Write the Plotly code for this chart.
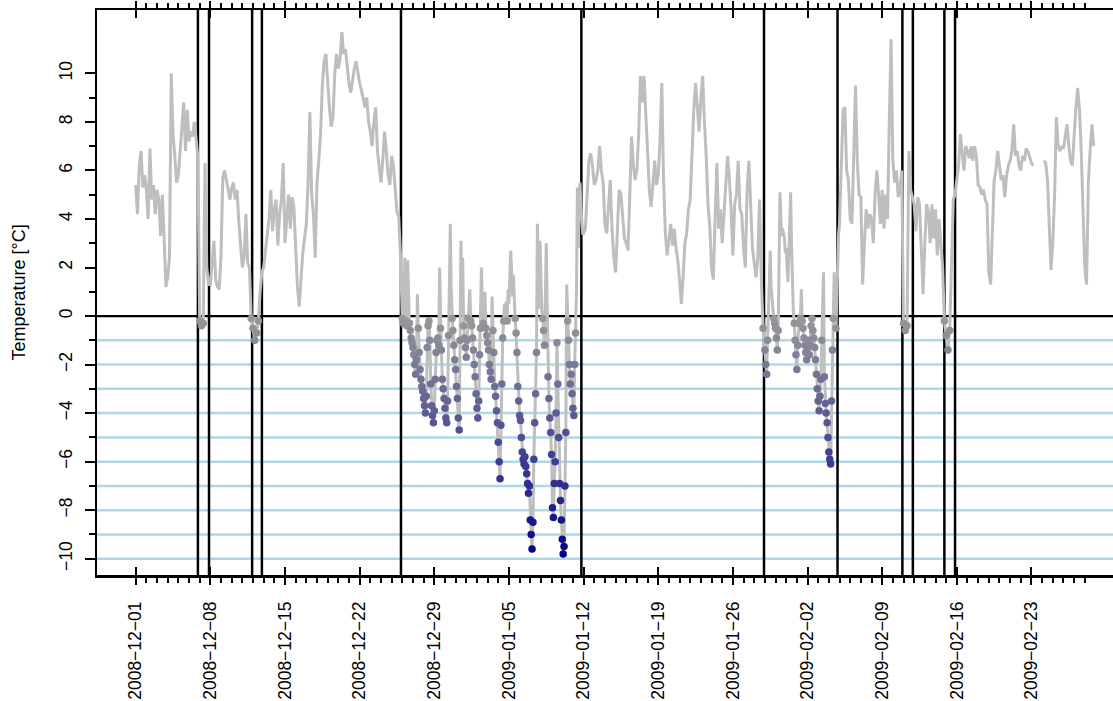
import plotly.graph_objects as go
import pandas as pd

# ---------------- data ----------------
# warm stretch 2008-12-01 .. 12-25, 4-hourly (00,04,08,12,16,20 h)
warm_dec_start = "2008-12-01 00:00"
warm_dec = [
    5.4, 4.2, 6.2, 6.8, 5.3, 5.8,        # 12-01
    5.2, 4.0, 6.9, 4.8, 5.4, 4.2,
    5.2, 4.8, 3.3, 5.0, 3.2, 1.2,
    1.6, 2.4, 10.0, 7.5, 6.6, 5.5,
    5.8, 6.8, 8.2, 8.8, 6.8, 8.5,
    7.2, 7.6, 7.4, 8.0, 7.3, 6.5,
    -0.2, -0.4, -0.3, 6.3, 2.0, 1.3,     # 12-07
    1.3, 2.2, 3.1, 1.5, 1.2, 1.1,        # 12-08
    2.5, 5.7, 6.0, 5.6, 5.2, 4.8,
    5.3, 5.5, 4.8, 5.2, 3.9, 2.8,
    2.0, 2.4, 4.2, 2.2, 2.0, -0.1,
    -0.5, -1.0, -0.7, -0.2, 1.0, 1.8,    # 12-12
    2.0, 2.6, 3.4, 4.0, 5.2, 3.5,
    4.4, 4.8, 2.9, 4.2, 4.8, 6.3,
    3.0, 4.2, 5.0, 3.6, 4.9, 4.5,        # 12-15
    3.1, 1.2, 0.4, 1.6, 2.6, 3.2,
    3.8, 5.5, 8.4, 5.0, 4.2, 2.4,
    5.5, 6.4, 7.5, 9.5, 10.5, 10.8,
    9.5, 8.6, 7.8, 8.2, 10.0, 10.8,
    10.2, 10.6, 11.7, 10.8, 11.0, 10.2,
    9.6, 9.2, 9.8, 10.2, 10.5, 10.0,
    9.6, 9.3, 9.0, 8.6, 9.0, 8.0,        # 12-22
    7.6, 7.0, 8.0, 8.6, 6.8, 6.2,
    5.5, 6.4, 7.6, 6.8, 5.8, 5.4,
    6.6, 6.2, 5.0, 4.3, 4.1, 2.5,        # 12-25
]

# frost spell 2008-12-26 .. 2009-01-11, 2-hourly
frost1_start = "2008-12-26 00:00"
frost1 = [
    -0.1, -0.3, 1.0, 2.4, -0.2, -0.4, 2.3, 0.2, -0.3, -0.6, -0.9, -1.1,      # 12-26
    -1.3, -1.6, -2.0, -2.4, -1.8, 0.9, -0.5, -1.5, -2.2, -2.6, -2.9, -3.1,   # 12-27
    -3.4, -3.7, -4.0, -3.3, -1.3, -0.4, -0.2, -1.0, -2.8, -3.7, -4.1, -4.4,  # 12-28
    -3.9, -2.6, -1.5, -1.0, -0.9, -1.2, 2.0, -0.5, -1.4, -2.6, -3.0, -3.4,   # 12-29
    -3.8, -4.2, -4.4, -3.5, -0.8, 1.0, 3.8, 1.1, -0.1, -0.6, -1.2, -1.8,     # 12-30
    -2.2, -2.9, -3.4, -4.2, -4.7, -1.0, 3.1, 0.5, 2.4, -0.4, -0.9, -1.3,     # 12-31
    -1.7, -1.0, -0.1, 0.6, 1.1, -0.2, -0.4, -0.9, -1.4, -2.0, -2.5, -3.2,    # 01-01
    -3.8, -4.2, -3.5, -1.6, -0.5, 2.0, 0.6, -0.3, 0.2, 1.0, -0.5, -0.8,      # 01-02
    -1.1, -1.4, -2.0, -2.3, -2.6, 0.8, -0.6, -1.5, -2.9, -3.3, -3.9, -4.4,   # 01-03
    -5.2, -6.0, -6.7, -4.5, -2.8, -0.9, -0.2, 0.5, 0.3, 0.6, -0.2, 1.1,      # 01-04
    0.5, 1.5, 2.7, 1.8, 0.8, 1.7, 0.2, -0.1, -0.7, -1.5, -2.9, -3.5,         # 01-05
    -4.1, -4.3, -5.0, -5.6, -5.9, -6.1, -5.8, -6.2, -6.5, -6.9, -7.3, -7.0,  # 01-06
    -8.4, -9.0, -9.6, -8.5, -5.9, -4.4, -3.2, -1.5, 3.8, 1.0, 0.3, 3.1,      # 01-07
    1.5, 0.2, -0.1, -0.6, -1.2, 0.8, 3.0, 0.5, -2.5, -3.4, -4.2, -4.8,       # 01-08
    -5.7, -7.9, -8.3, -6.9, -6.0, -4.0, -1.1, -2.8, -5.0, -6.9, -7.6, -8.4,  # 01-09
    -9.2, -9.8, -9.5, -7.0, -4.8, 1.3, -0.2, -1.0, -2.0, -2.8, -2.4, -3.2,   # 01-10
    -3.8, -4.1, -2.0, -0.7, 1.0, 5.3, 2.8, 5.0, 5.5, 4.5, 3.6, 3.4,          # 01-11
]

# mild stretch 2009-01-12 .. 01-28, 4-hourly
warm_jan_start = "2009-01-12 00:00"
warm_jan = [
    3.4, 3.6, 5.0, 6.4, 6.7, 6.2,        # 01-12
    5.4, 5.6, 6.0, 7.0, 6.0, 5.5,
    3.8, 3.4, 4.5, 5.6, 3.6, 2.4,
    1.8, 3.5, 5.2, 5.0, 4.0, 3.2,
    3.0, 2.7, 5.0, 7.4, 6.2, 5.6,
    6.0, 7.5, 9.9, 8.8, 9.9, 8.5,
    7.0, 5.2, 4.5, 5.5, 6.4, 5.4,
    5.8, 7.2, 9.6, 5.6, 3.4, 2.5,        # 01-19
    3.2, 3.8, 2.9, 3.6, 2.8, 2.3,
    1.5, 0.5, 1.6, 3.0, 3.4, 4.4,
    4.8, 7.0, 8.5, 9.6, 8.5, 7.6,
    9.0, 9.9, 8.0, 6.6, 4.6, 3.7,
    2.0, 1.5, 4.0, 6.3, 3.6, 4.4,
    3.0, 4.2, 5.4, 6.6, 5.7, 4.4,
    2.5, 4.6, 5.0, 6.4, 4.4, 4.2,        # 01-26
    2.8, 2.0, 5.2, 6.4, 4.6, 2.8,
    2.2, 1.6, 2.4, 4.8, 1.5, -0.5,       # 01-28
]

# frost spell 2009-01-29 .. 02-04, 2-hourly
frost2_start = "2009-01-29 00:00"
frost2 = [
    -1.4, -2.0, -2.4, -1.0, 0.5, 1.5, 2.7, 1.2, 0.7, 0.2, -0.1, -0.3,       # 01-29
    -0.5, -0.9, -1.4, -0.6, 2.0, 5.1, 4.0, 3.3, 3.6, 3.3, 3.2, 2.6,         # 01-30
    2.8, 2.0, 1.4, 2.6, 3.5, 5.1, 3.0, 1.0, 0.2, -0.3, -1.0, -1.6,          # 01-31
    -2.2, -1.2, -0.3, 0.1, -0.1, 1.1, -0.2, -0.5, -0.9, -1.2, -1.5, -1.8,   # 02-01
    -1.3, -1.0, -1.6, -1.2, -0.4, -0.1, -0.6, -0.9, -1.3, -1.8, -2.4, -3.0, # 02-02
    -3.5, -3.9, -3.3, -2.6, -1.0, 0.8, 1.8, -2.5, -3.6, -4.0, -4.4, -5.0,   # 02-03
    -5.6, -5.9, -6.1, -3.5, -1.4, -0.1, 1.8, 0.5, -0.5, 0.8, 2.5, 3.4,      # 02-04
]

# stretch 2009-02-05 .. 02-28, 4-hourly (logger gap on 02-23/24)
warm_feb_start = "2009-02-05 00:00"
warm_feb = [
    3.8, 6.0, 8.5, 8.6, 6.0, 5.6,        # 02-05
    4.0, 3.8, 7.0, 9.5, 6.4, 5.0,
    4.9, 1.3, 3.0, 4.4, 3.6, 4.2,
    4.0, 3.0, 5.0, 6.0, 5.0, 3.8,
    5.2, 3.6, 5.0, 4.0, 8.0, 11.4,       # 02-09
    6.4, 5.5, 6.0, 4.9, 5.2, 6.0,
    -0.3, -0.6, -0.4, 6.8, 5.2, 4.9,
    4.6, 3.5, 4.9, 4.6, 3.0, 0.9,
    3.0, 4.6, 4.3, 3.0, 4.6, 3.2,
    4.4, 2.5, 4.0, 3.0, 2.0, -0.2,
    -0.8, -1.4, -0.6, 2.5, 4.8, 5.0,     # 02-15
    5.6, 6.2, 7.5, 6.8, 6.0, 7.0,        # 02-16
    6.8, 6.5, 7.0, 6.4, 7.0, 6.6,
    5.4, 5.3, 5.0, 5.2, 4.8, 4.6,
    1.8, 1.3, 3.5, 5.6, 6.0, 6.8,
    6.2, 5.6, 5.8, 4.9, 5.8, 6.2,
    6.4, 6.8, 7.9, 6.6, 6.8, 6.2,
    6.0, 6.6, 6.4, 6.9, 6.8, 6.5,
    6.3, 6.2, None, None, None, None,    # 02-23
    None, 6.4, 6.3, 5.6, 3.5, 1.9,
    3.0, 5.0, 8.2, 7.0, 6.8, 7.0,
    6.9, 7.4, 7.9, 7.0, 6.4, 6.2,
    7.6, 8.6, 9.4, 8.5, 6.8, 4.4,
    2.0, 1.3, 5.5, 6.8, 7.9, 7.0,        # 02-28
]

# frost period boundaries (vertical lines)
frost_bounds = [
    "2008-12-06 20:00", "2008-12-07 21:00",
    "2008-12-11 22:00", "2008-12-12 20:00",
    "2008-12-25 21:00", "2009-01-11 19:00",
    "2009-01-28 22:00", "2009-02-04 19:30",
    "2009-02-10 21:30", "2009-02-11 21:00",
    "2009-02-14 20:00", "2009-02-15 20:00",
]
frost_levels = [-1, -2, -3, -4, -5, -6, -7, -8, -9, -10]

week_ticks = ["2008-12-01", "2008-12-08", "2008-12-15", "2008-12-22", "2008-12-29",
              "2009-01-05", "2009-01-12", "2009-01-19", "2009-01-26", "2009-02-02",
              "2009-02-09", "2009-02-16", "2009-02-23"]
week_labels = [d.replace("-", "\u2212") for d in week_ticks]
y_major = [-10, -8, -6, -4, -2, 0, 2, 4, 6, 8, 10]
y_minor = [-9, -7, -5, -3, -1, 1, 3, 5, 7, 9]

X_RANGE = ["2008-11-27 08:54", "2009-03-02 15:29"]
Y_RANGE = [-10.67, 12.61]

# ---------------- build ----------------
segments = [
    (warm_dec_start, "4h", warm_dec),
    (frost1_start, "2h", frost1),
    (warm_jan_start, "4h", warm_jan),
    (frost2_start, "2h", frost2),
    (warm_feb_start, "4h", warm_feb),
]
times, temps = [], []
for start, step, vals in segments:
    times += list(pd.date_range(start, periods=len(vals), freq=step))
    temps += vals

day_ticks = list(pd.date_range("2008-12-01", "2009-02-28", freq="D"))

frost_t = [t for t, v in zip(times, temps) if v is not None and v < 0]
frost_v = [v for v in temps if v is not None and v < 0]

fig = go.Figure()
fig.add_trace(go.Scatter(x=times, y=temps, mode="lines",
                         line=dict(color="#BEBEBE", width=3),
                         hoverinfo="skip", showlegend=False))
fig.add_trace(go.Scatter(x=frost_t, y=frost_v, mode="markers",
                         marker=dict(size=7.5, color=frost_v, cmin=-10, cmax=0,
                                     colorscale=[[0, "#00008B"], [1, "#999999"]],
                                     line=dict(width=0)),
                         showlegend=False))
# carriers for the extra tick axes
fig.add_trace(go.Scatter(x=[None], y=[None], xaxis="x2", mode="lines",
                         hoverinfo="skip", showlegend=False))
fig.add_trace(go.Scatter(x=[None], y=[None], xaxis="x3", mode="lines",
                         hoverinfo="skip", showlegend=False))

for lv in frost_levels:
    fig.add_shape(type="line", xref="paper", x0=0, x1=1, yref="y", y0=lv, y1=lv,
                  line=dict(color="#ADD8E6", width=2.5), layer="below")
fig.add_shape(type="line", xref="paper", x0=0, x1=1, yref="y", y0=0, y1=0,
              line=dict(color="black", width=2.2), layer="below")
for b in frost_bounds:
    fig.add_shape(type="line", xref="x", x0=b, x1=b, yref="paper", y0=0, y1=1,
                  line=dict(color="black", width=2.5), layer="below")

fig.add_annotation(text="Temperature [\u00b0C]", xref="paper", yref="paper",
                   x=-79 / 1016, y=0.5, xanchor="center", yanchor="middle",
                   textangle=-90, showarrow=False,
                   font=dict(size=18, color="black"))

tick_common = dict(showgrid=False, zeroline=False, tickcolor="black", fixedrange=True)

fig.update_layout(
    width=1113, height=701,
    margin=dict(l=97, r=0, t=10, b=126, pad=0),
    paper_bgcolor="white", plot_bgcolor="white",
    font=dict(family="Liberation Sans, Arial, sans-serif", color="black", size=17.5),
    xaxis=dict(
        type="date", range=X_RANGE,
        showline=True, linecolor="black", linewidth=2.5, mirror="allticks",
        ticks="outside", ticklen=7, tickwidth=2,
        tickmode="array", tickvals=week_ticks, ticktext=week_labels,
        tickangle=-90, tickfont=dict(size=17.5), ticklabelstandoff=10,
        minor=dict(tickmode="array", tickvals=day_ticks, ticks="outside",
                   ticklen=5, tickwidth=2, tickcolor="black", showgrid=False),
        **tick_common,
    ),
    xaxis2=dict(
        type="date", range=X_RANGE, overlaying="x", anchor="y", side="bottom",
        showline=False, mirror="ticks", ticks="inside", ticklen=8, tickwidth=2,
        tickmode="array", tickvals=week_ticks, showticklabels=False,
        **tick_common,
    ),
    xaxis3=dict(
        type="date", range=X_RANGE, overlaying="x", anchor="y", side="top",
        showline=False, ticks="outside", ticklen=5, tickwidth=2,
        tickmode="array", tickvals=day_ticks, showticklabels=False,
        **tick_common,
    ),
    yaxis=dict(
        range=Y_RANGE,
        showline=True, linecolor="black", linewidth=2.5, mirror=False,
        ticks="outside", ticklen=10, tickwidth=2,
        tickmode="array", tickvals=y_major, tickangle=-90,
        tickfont=dict(size=17.5), ticklabelstandoff=6,
        minor=dict(tickmode="array", tickvals=y_minor, ticks="outside",
                   ticklen=6, tickwidth=2, tickcolor="black", showgrid=False),
        **tick_common,
    ),
)

fig.write_html("out.html", config={"displayModeBar": False, "staticPlot": True},
               post_script="document.body.style.margin='0px';")
